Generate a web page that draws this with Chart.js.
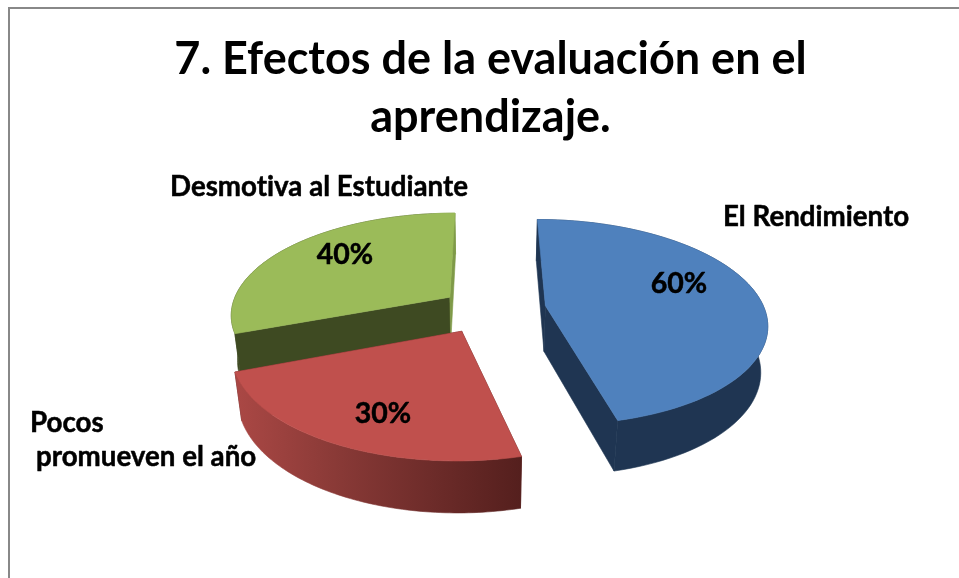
<!DOCTYPE html>
<html><head><meta charset="utf-8">
<style>
html,body{margin:0;padding:0;background:#fff;overflow:hidden}
#frame{position:absolute;left:8px;top:7px;right:0;bottom:0;border-left:2px solid #888;border-top:2px solid #888}
#wrap{position:absolute;left:0;top:0;width:959px;height:578px}
</style>
<script src="https://cdn.jsdelivr.net/npm/chart.js@4"></script>
</head><body>
<div id="frame"></div>
<div id="wrap"><canvas id="c" width="959" height="578"></canvas></div>
<script>
const categories = ["El Rendimiento", "Pocos promueven el año", "Desmotiva al Estudiante"];
const values = [60, 30, 40];
const valueLabels = ["60%", "30%", "40%"];
const titleLines = ["7. Efectos de la evaluación en el", "aprendizaje."];
const explode = [27, 24, 21];
const topColors = ["#4f81bd", "#c0504d", "#9bbb59"];
const FONT = "Lato, Carlito, sans-serif";

const view = {x0: 487, y0: 309, A: 219, B: 101, H: 47, k: 0.16, m: 0.025};
function proj(u, v, z) {
  const w = 1 - view.k * v + view.m * z;
  return [view.x0 + view.A * u / w, view.y0 + (view.B * v + view.H * z) / w];
}
function poly(ctx, pts, fill) {
  ctx.beginPath();
  pts.forEach((p, i) => i ? ctx.lineTo(p[0], p[1]) : ctx.moveTo(p[0], p[1]));
  ctx.closePath();
  ctx.fillStyle = fill;
  ctx.fill();
  ctx.strokeStyle = fill;
  ctx.lineWidth = 0.6;
  ctx.stroke();
}
function hGrad(ctx, x1, x2, stops) {
  const g = ctx.createLinearGradient(x1, 0, x2, 0);
  stops.forEach((s, i) => g.addColorStop(i / (stops.length - 1), s));
  return g;
}
const wallStyle = [
  c => "#1f3552",
  c => hGrad(c, 240, 523, ["#a94744", "#8a3a37", "#6e2c2a", "#541f1d"]),
  c => {
    const g = c.createLinearGradient(230, 0, 453, 0);
    g.addColorStop(0, "#3e4a22");
    g.addColorStop(0.9, "#3e4a22");
    g.addColorStop(0.93, "#7f9a48");
    g.addColorStop(1, "#7f9a48");
    return g;
  }
];
const cutStyle = [["#1f3552", "#1f3552"], ["#5a2220", "#5a2220"], ["#3e4a22", "#7f9a48"]];

const pie3d = {
  id: "pie3d",
  beforeDatasetsDraw(chart) {
    const ctx = chart.ctx;
    const arcs = chart.getDatasetMeta(0).data;
    [2, 0, 1].forEach(i => {
      const a = arcs[i];
      const mid = (a.startAngle + a.endAngle) / 2;
      const d = a.options.offset / 100;
      const ou = Math.cos(mid) * d, ov = Math.sin(mid) * d;
      const N = 80, rim = [];
      for (let j = 0; j <= N; j++) {
        const t = a.startAngle + (a.endAngle - a.startAngle) * j / N;
        rim.push([ou + Math.cos(t), ov + Math.sin(t)]);
      }
      ctx.save();
      // cut faces
      [rim[0], rim[N]].forEach((p, n) => {
        poly(ctx, [proj(ou, ov, 0), proj(p[0], p[1], 0), proj(p[0], p[1], 1), proj(ou, ov, 1)], cutStyle[i][n]);
      });
      // outer wall
      const wall = rim.map(p => proj(p[0], p[1], 0))
        .concat(rim.slice().reverse().map(p => proj(p[0], p[1], 1)));
      poly(ctx, wall, wallStyle[i](ctx));
      // top face
      const top = [proj(ou, ov, 0)].concat(rim.map(p => proj(p[0], p[1], 0)));
      poly(ctx, top, a.options.backgroundColor);
      ctx.restore();
    });
    return false;
  },
  afterDraw(chart) {
    const ctx = chart.ctx;
    ctx.save();
    ctx.fillStyle = "#000";
    ctx.strokeStyle = "#000";
    ctx.lineWidth = 0.5;
    ctx.lineJoin = "round";
    ctx.textBaseline = "alphabetic";
    ctx.letterSpacing = "0.01px";
    const put = (t, x, y) => { ctx.fillText(t, x, y); ctx.strokeText(t, x, y); };
    ctx.font = "bold 28.5px " + FONT;
    ctx.textAlign = "center";
    const at = [[679, 293], [383, 423], [345, 264]];
    valueLabels.forEach((t, i) => put(t, at[i][0], at[i][1]));
    ctx.textAlign = "left";
    ctx.font = "bold 27.7px " + FONT;
    put("El Rendimiento", 723, 226);
    put("Desmotiva al Estudiante", 170, 196);
    put("Pocos", 30, 432);
    put("promueven el año", 36, 466);
    ctx.restore();
  }
};

new Chart(document.getElementById("c"), {
  type: "pie",
  data: {labels: categories, datasets: [{data: values, backgroundColor: topColors, offset: explode, borderWidth: 0}]},
  options: {
    responsive: false,
    animation: false,
    rotation: 0,
    layout: {padding: {left: 22}},
    events: [],
    plugins: {
      legend: {display: false},
      tooltip: {enabled: false},
      title: {
        display: true,
        text: titleLines,
        color: "#000",
        position: "top",
        align: "center",
        font: {family: FONT, size: 45, weight: "bold", lineHeight: 1.29},
        padding: {top: 30, bottom: 10}
      }
    }
  },
  plugins: [pie3d]
});
</script>
</body></html>
